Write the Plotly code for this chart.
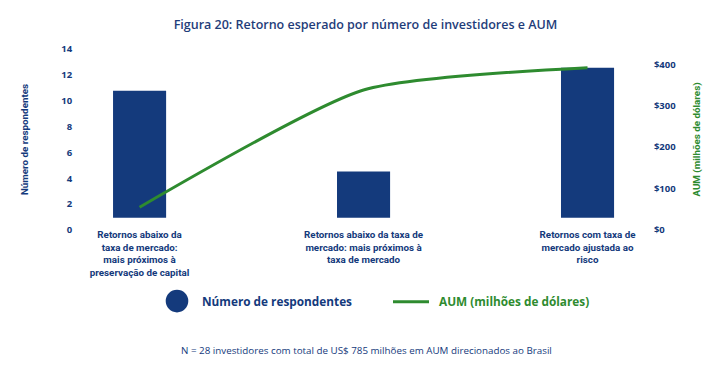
import plotly.graph_objects as go

# ---- data ----
categories = [
    "Retornos abaixo da<br>taxa de mercado:<br>mais próximos à<br>preservação de capital",
    "Retornos abaixo da taxa de<br>mercado: mais próximos à<br>taxa de mercado",
    "Retornos com taxa de<br>mercado ajustada ao<br>risco",
]
respondentes = [11, 4, 13]
aum = [55, 338, 392]
left_ticks = [0, 2, 4, 6, 8, 10, 12, 14]
right_ticks = [0, 100, 200, 300, 400]
right_ticktext = ["$0", "$100", "$200", "$300", "$400"]

NAVY = "#143a7c"
GREEN = "#2e8b2f"
COND = "Roboto, DejaVu Sans Condensed, Liberation Sans Narrow, sans-serif"
SANS = "Open Sans, Noto Sans, sans-serif"

xpos = list(range(len(categories)))

# page body has an 8px margin: work in reference pixels and shift
OFF = 8
W, H = 727 - OFF, 372 - OFF
PL, PR, PT, PB = 80 - OFF, 648 - OFF, 49.3 - OFF, 230 - OFF
L, R, T, B = PL, W - PR, PT, H - PB


def px(x):
    return (x - OFF - L) / (W - L - R)


def py(y):
    return (H - B - (y - OFF)) / (H - T - B)


fig = go.Figure()
fig.add_trace(go.Bar(
    x=xpos, y=respondentes, yaxis="y", width=0.237,
    marker=dict(color=NAVY, line=dict(width=0)),
    name="Número de respondentes", showlegend=False,
))
fig.add_trace(go.Scatter(
    x=xpos, y=aum, yaxis="y2", mode="lines",
    line=dict(color=GREEN, width=3, shape="spline", smoothing=0.6),
    name="AUM (milhões de dólares)", showlegend=False,
))
# empty helper trace so the labelled left scale (y3) gets drawn
fig.add_trace(go.Scatter(x=[], y=[], yaxis="y3", mode="lines",
                         showlegend=False, hoverinfo="skip"))

fig.update_layout(
    width=W, height=H,
    margin=dict(l=L, r=R, t=T, b=B, autoexpand=False),
    paper_bgcolor="white", plot_bgcolor="white",
    showlegend=False,
    title=dict(
        text="Figura 20: Retorno esperado por número de investidores e AUM",
        x=px(365.5), xref="paper", xanchor="center",
        y=1 - (25 - OFF) / H, yanchor="middle",
        font=dict(family=SANS, size=12.5, color="#1f3d7a", weight=600),
    ),
    xaxis=dict(
        range=[-0.266, 2.27], tickvals=xpos, ticktext=categories,
        showgrid=False, zeroline=False, showline=False,
        ticks="", ticklabelstandoff=-3, ticklabeloverflow="allow",
        tickfont=dict(family=COND, size=9.8, color=NAVY, weight="bold"),
    ),
    # bar scale (hidden)
    yaxis=dict(
        range=[-1.066, 14.625], showticklabels=False,
        showgrid=False, zeroline=False, showline=False, ticks="",
    ),
    yaxis2=dict(
        range=[0, 437], tickvals=right_ticks, ticktext=right_ticktext,
        overlaying="y", side="right", anchor="x",
        showgrid=False, zeroline=False, showline=False,
        ticks="outside", ticklen=3, tickcolor="rgba(0,0,0,0)",
        tickfont=dict(family=SANS, size=9.5, color=NAVY, weight="bold"),
        title=dict(text="AUM (milhões de dólares)", standoff=17,
                   font=dict(family=COND, size=9.8, color=GREEN, weight="bold")),
    ),
    # left labelled scale
    yaxis3=dict(
        range=[0, 14], tickvals=left_ticks,
        overlaying="y", side="left", anchor="x",
        showgrid=False, zeroline=False, showline=False,
        ticks="outside", ticklen=5, tickcolor="rgba(0,0,0,0)",
        tickfont=dict(family=SANS, size=9.5, color=NAVY, weight="bold"),
        title=dict(text="Número de respondentes", standoff=30,
                   font=dict(family=COND, size=9.8, color=NAVY, weight="bold")),
    ),
)

# manual legend
fig.add_shape(type="circle", xref="paper", yref="paper",
              x0=px(177 - 11.3), x1=px(177 + 11.3),
              y0=py(301 + 11.3), y1=py(301 - 11.3),
              fillcolor=NAVY, line=dict(width=0))
fig.add_shape(type="line", xref="paper", yref="paper",
              x0=px(393), x1=px(429), y0=py(301.7), y1=py(301.7),
              line=dict(color=GREEN, width=3))
fig.add_annotation(text="Número de respondentes", xref="paper", yref="paper",
                   x=px(200), y=py(301), xanchor="left", yanchor="middle", showarrow=False,
                   font=dict(family=SANS, size=11.8, color=NAVY, weight="bold"))
fig.add_annotation(text="AUM (milhões de dólares)", xref="paper", yref="paper",
                   x=px(437), y=py(301), xanchor="left", yanchor="middle", showarrow=False,
                   font=dict(family=SANS, size=11.8, color=GREEN, weight="bold"))
fig.add_annotation(text="N = 28 investidores com total de US$ 785 milhões em AUM direcionados ao Brasil",
                   xref="paper", yref="paper", x=px(366), y=py(350),
                   xanchor="center", yanchor="middle", showarrow=False,
                   font=dict(family=SANS, size=9.8, color=NAVY))

fig.write_html("out.html")
